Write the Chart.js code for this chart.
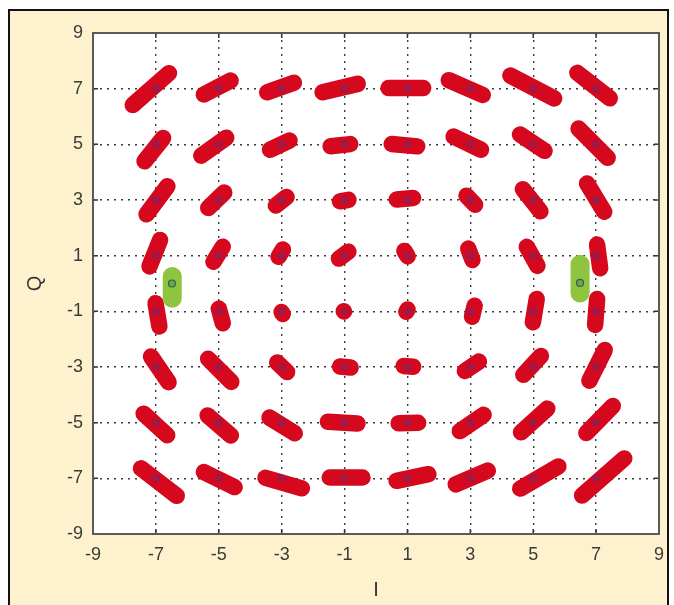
<!DOCTYPE html>
<html>
<head>
<meta charset="utf-8">
<script src="https://cdn.jsdelivr.net/npm/chart.js@4.4.0/dist/chart.umd.min.js"></script>
<style>
  html, body { margin: 0; padding: 0; background: #fff; }
  canvas { display: block; }
</style>
</head>
<body>
<canvas id="chart" width="674" height="605"></canvas>
<script>
"use strict";

// axis ticks and the 64-QAM symbol levels
const tickValues = [-9, -7, -5, -3, -1, 1, 3, 5, 7, 9];
const levels = [-7, -5, -3, -1, 1, 3, 5, 7];

// received clusters, read off the picture as the two outer ends of each smear
// rows go Q = 7 ... -7, columns I = -7 ... 7
const clusterStartI = [
  -7.92, -5.70, -3.70, -1.95, 0.14, 2.08, 4.05, 6.21,
  -7.51, -5.76, -3.60, -1.70, 0.24, 2.24, 4.37, 6.27,
  -7.44, -5.51, -3.38, -1.40, 0.40, 2.71, 4.52, 6.59,
  -7.29, -5.29, -3.22, -1.38, 0.78, 2.85, 4.68, 7.00,
  -7.05, -5.06, -3.13, -1.22, 0.85, 3.19, 5.15, 7.05,
  -7.29, -5.51, -3.32, -1.40, 0.62, 2.62, 4.52, 6.68,
  -7.57, -5.54, -3.60, -1.79, 0.46, 2.46, 4.43, 6.52,
  -7.67, -5.70, -3.76, -1.73, 0.40, 2.30, 4.37, 6.37
];
const clusterStartQ = [
  6.23, 6.66, 6.77, 6.80, 7.02, 7.42, 7.60, 7.74,
  4.18, 4.43, 4.68, 4.90, 5.04, 5.40, 5.51, 5.76,
  2.27, 2.52, 2.63, 2.90, 2.99, 3.35, 3.60, 3.82,
  0.37, 0.55, 0.73, 0.73, 1.40, 1.50, 1.55, 1.66,
  -0.45, -0.65, -0.80, -0.82, -1.25, -0.55, -0.30, -0.30,
  -2.40, -2.51, -2.65, -2.95, -2.94, -3.30, -3.48, -3.73,
  -4.49, -4.56, -4.67, -4.95, -5.03, -5.46, -5.53, -5.57,
  -6.47, -6.65, -6.90, -6.97, -7.15, -7.33, -7.51, -7.80
];
const clusterEndI = [
  -6.40, -4.40, -2.37, -0.33, 1.76, 3.63, 5.89, 7.63,
  -6.62, -4.56, -2.52, -0.56, 1.57, 3.57, 5.57, 7.54,
  -6.49, -4.65, -2.65, -0.62, 1.44, 3.32, 5.38, 7.38,
  -6.78, -4.75, -2.84, -0.68, 1.13, 3.15, 5.25, 7.16,
  -6.85, -4.81, -2.84, -0.82, 1.12, 3.00, 4.95, 6.95,
  -6.46, -4.43, -2.65, -0.55, 1.44, 3.48, 5.41, 7.38,
  -6.46, -4.43, -2.37, -0.33, 1.60, 3.63, 5.63, 7.70,
  -6.14, -4.27, -2.11, -0.17, 1.92, 3.79, 6.02, 8.08
];
const clusterEndQ = [
  7.74, 7.42, 7.31, 7.24, 7.02, 6.66, 6.52, 6.48,
  5.44, 5.40, 5.26, 5.04, 4.90, 4.68, 4.61, 4.32,
  3.71, 3.46, 3.28, 3.06, 3.10, 2.63, 2.38, 2.35,
  1.81, 1.55, 1.45, 1.31, 0.75, 0.60, 0.40, 0.29,
  -1.80, -1.68, -1.32, -1.18, -0.70, -1.45, -1.65, -1.75,
  -3.77, -3.73, -3.37, -3.05, -3.01, -2.65, -2.40, -2.15,
  -5.64, -5.64, -5.53, -5.05, -5.00, -4.56, -4.31, -4.20,
  -7.80, -7.44, -7.44, -6.97, -6.79, -6.61, -6.43, -6.10
];

// the two green clusters near the I axis and their reference circles
const greenI = [-6.48, 6.49];
const greenTopQ = [0.58, 1.02];
const greenBottomQ = [-0.86, -0.67];
const greenMarkI = [-6.49, 6.49];
const greenMarkQ = [0.0, 0.02];

const RED = 'rgb(214, 8, 30)';
const GREEN = 'rgb(142, 196, 62)';
const font = { family: "'Liberation Sans', Arial, sans-serif", size: 18 };
const titleFont = { family: "'Liberation Sans', Arial, sans-serif", size: 20 };

// pull the ends in so the round caps end where the smear ends
function shrink(x1, y1, x2, y2, d) {
    const dx = x2 - x1, dy = y2 - y1;
    const len = Math.hypot(dx, dy);
    if (len <= 2 * d + 0.02) {
        const mx = (x1 + x2) / 2, my = (y1 + y2) / 2;
        return [{ x: mx - dx * 0.01, y: my - dy * 0.01 }, { x: mx + dx * 0.01, y: my + dy * 0.01 }];
    }
    const k = d / len;
    return [{ x: x1 + dx * k, y: y1 + dy * k }, { x: x2 - dx * k, y: y2 - dy * k }];
}

const datasets = [];

// ideal symbol markers, on top
const ideal = [];
levels.slice().reverse().forEach(q => levels.forEach(i => ideal.push({ x: i, y: q })));
datasets.push({
    data: ideal,
    order: 0,
    pointRadius: 3.5,
    pointBackgroundColor: 'rgba(125, 35, 95, 0.5)',
    pointBorderColor: 'rgba(95, 45, 120, 0.6)',
    pointBorderWidth: 1,
    showLine: false
});

datasets.push({
    data: greenMarkI.map((v, k) => ({ x: v, y: greenMarkQ[k] })),
    order: 0,
    pointRadius: 3.5,
    pointBackgroundColor: 'rgba(90, 150, 60, 0.6)',
    pointBorderColor: 'rgba(40, 80, 110, 0.9)',
    pointBorderWidth: 1.2,
    showLine: false
});

greenI.forEach((v, k) => {
    datasets.push({
        data: shrink(v, greenTopQ[k], v, greenBottomQ[k], 0.33),
        order: 1,
        showLine: true,
        borderColor: GREEN,
        borderWidth: 19,
        borderCapStyle: 'round',
        pointRadius: 0
    });
});

clusterStartI.forEach((v, k) => {
    datasets.push({
        data: shrink(v, clusterStartQ[k], clusterEndI[k], clusterEndQ[k], 0.26),
        order: 2,
        showLine: true,
        borderColor: RED,
        borderWidth: 16.5,
        borderCapStyle: 'round',
        pointRadius: 0
    });
});

const gridColor = c => (c.tick && Math.abs(c.tick.value) === 9) ? 'rgba(0,0,0,0)' : '#3a3a3a';

const framePlugin = {
    id: 'frame',
    beforeDraw(chart) {
        const { ctx, chartArea: a } = chart;
        ctx.save();
        ctx.fillStyle = '#fff';
        ctx.fillRect(0, 0, chart.width, chart.height);
        ctx.fillStyle = '#fef1cd';
        ctx.fillRect(9, 10, 659, 605);
        ctx.strokeStyle = '#111';
        ctx.lineWidth = 2;
        ctx.strokeRect(9, 10, 659, 605);
        ctx.fillStyle = '#fff';
        ctx.fillRect(a.left, a.top, a.right - a.left, a.bottom - a.top);
        ctx.restore();
    },
    afterDraw(chart) {
        const { ctx, chartArea: a, scales } = chart;
        ctx.save();
        ctx.strokeStyle = '#333';
        ctx.lineWidth = 1.5;
        tickValues.forEach(v => {
            if (Math.abs(v) === 9) return;
            const px = scales.x.getPixelForValue(v);
            const py = scales.y.getPixelForValue(v);
            ctx.beginPath();
            ctx.moveTo(px, a.top); ctx.lineTo(px, a.top + 5);
            ctx.moveTo(px, a.bottom); ctx.lineTo(px, a.bottom - 5);
            ctx.moveTo(a.left, py); ctx.lineTo(a.left + 5, py);
            ctx.moveTo(a.right, py); ctx.lineTo(a.right - 5, py);
            ctx.stroke();
        });
        ctx.strokeStyle = '#5a5a5a';
        ctx.lineWidth = 2;
        ctx.strokeRect(a.left, a.top, a.right - a.left, a.bottom - a.top);
        ctx.restore();
    }
};

new Chart(document.getElementById('chart'), {
    type: 'scatter',
    data: { datasets: datasets },
    options: {
        responsive: false,
        animation: false,
        devicePixelRatio: 1,
        layout: { padding: { left: 0, right: 12, top: 33, bottom: 0 } },
        plugins: {
            legend: { display: false },
            tooltip: { enabled: false }
        },
        scales: {
            x: {
                type: 'linear',
                min: -9,
                max: 9,
                afterBuildTicks: s => { s.ticks = tickValues.map(v => ({ value: v })); },
                afterFit: s => { s.height = 71; },
                grid: { color: gridColor, lineWidth: 1.4, drawTicks: false },
                border: { display: false, dash: [2, 5] },
                ticks: { font: font, color: '#3a3a3a', padding: 10, maxRotation: 0, autoSkip: false },
                title: { display: true, text: 'I', font: titleFont, color: '#333', padding: { top: 0, bottom: 3 } }
            },
            y: {
                type: 'linear',
                min: -9,
                max: 9,
                afterBuildTicks: s => { s.ticks = tickValues.map(v => ({ value: v })); },
                afterFit: s => { s.width = 93; },
                grid: { color: gridColor, lineWidth: 1.4, drawTicks: false },
                border: { display: false, dash: [2, 5] },
                ticks: { font: font, color: '#3a3a3a', padding: 10, autoSkip: false },
                title: { display: true, text: 'Q', font: titleFont, color: '#333', padding: { top: 23, bottom: 0 } }
            }
        }
    },
    plugins: [framePlugin]
});
</script>
</body>
</html>
